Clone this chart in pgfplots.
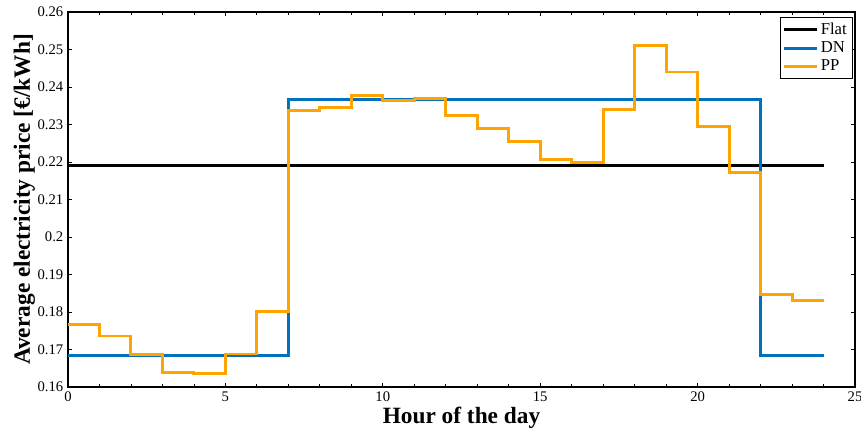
\documentclass[border=0pt]{standalone}
\usepackage{fontspec}
\setmainfont{Liberation Serif}
\usepackage{pgfplots}
\pgfplotsset{compat=1.18}
\usetikzlibrary{calc}
\definecolor{dnblue}{RGB}{0,114,189}
\definecolor{pporange}{RGB}{255,163,0}
\begin{document}
\begin{tikzpicture}
\begin{axis}[
    scale only axis,
    width=590.25pt, height=281.25pt,
    xmin=0, xmax=25, ymin=0.16, ymax=0.26,
    xtick={0,5,...,25},
    minor xtick={0,1,...,25},
    ytick={0.16,0.17,...,0.2601},
    tick align=inside,
    major tick length=3pt, minor tick length=2pt,
    tick style={black, line width=0.6pt},
    axis line style={line width=1.2pt},
    yticklabel style={/pgf/number format/fixed, /pgf/number format/precision=2, /pgf/number format/assume math mode=true},
    xticklabel style={/pgf/number format/assume math mode=true},
    ticklabel style={font=\fontsize{11}{13}\selectfont},
    scaled y ticks=false,
    xlabel={\textbf{Hour of the day}},
    ylabel={\textbf{Average electricity price [€/kWh]}},
    label style={font=\fontsize{17.5}{19}\selectfont},
    xlabel style={yshift=3pt},
    ylabel style={yshift=-5pt},
    legend style={at={(0.997,0.987)}, anchor=north east, font=\fontsize{12.5}{14}\selectfont, draw=black, line width=0.8pt, inner sep=2pt, row sep=0pt},
    legend cell align=left,
    legend image code/.code={\draw[#1, line width=2.2pt] (0cm,0cm) -- (0.85cm,0cm);},
]
\addplot[black, line width=2.2pt] coordinates {(0,0.219) (24,0.219)};
\addplot[dnblue, line width=2.2pt, const plot] coordinates {
    (0,0.1685) (7,0.2366) (22,0.1685) (24,0.1685)
};
\addplot[pporange, line width=2.2pt, const plot] coordinates {
    (0,0.1766) (1,0.1736) (2,0.1687) (3,0.1639) (4,0.1635) (5,0.1688)
    (6,0.1801) (7,0.2337) (8,0.2345) (9,0.2377) (10,0.2365) (11,0.2369)
    (12,0.2325) (13,0.2290) (14,0.2254) (15,0.2207) (16,0.2198) (17,0.2339)
    (18,0.2511) (19,0.2440) (20,0.2294) (21,0.2172) (22,0.1847) (23,0.1830)
    (24,0.1830)
};
\legend{Flat, DN, PP}
\end{axis}
\pgfresetboundingbox
\useasboundingbox ($(current axis.south west)+(-51pt,-32.25pt)$) rectangle ($(current axis.north east)+(4.5pt,9pt)$);
\end{tikzpicture}
\end{document}
